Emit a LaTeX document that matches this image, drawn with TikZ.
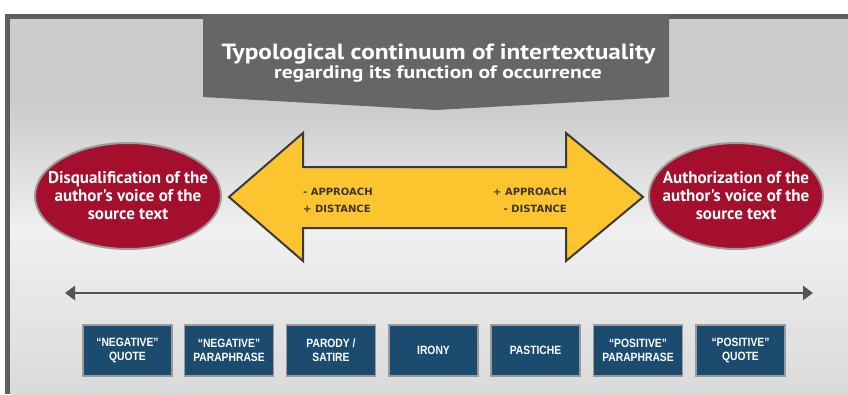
\documentclass[tikz,border=0pt]{standalone}
\usepackage{fontspec}
\setmainfont{PT Sans}
\newfontfamily\titlefont{PT Sans}[FakeStretch=1.15]
\newfontfamily\subtitlefont{PT Sans}[FakeStretch=1.2]
\newfontfamily\voicefont{PT Sans}
\newfontfamily\tagfont{DejaVu Sans}
\newfontfamily\narrowfont{Liberation Sans}[FakeStretch=0.86]
\usetikzlibrary{arrows.meta,shapes.geometric}

\definecolor{framegray}{HTML}{5E5E5E}
\definecolor{bgtop}{HTML}{CCCCCC}
\definecolor{bgmid}{HTML}{F0F0F0}
\definecolor{bgbot}{HTML}{DADADA}
\definecolor{bannergray}{HTML}{666666}
\definecolor{voicered}{HTML}{A30F2D}
\definecolor{voiceline}{HTML}{9C9C9C}
\definecolor{arrowyellow}{HTML}{FCC52F}
\definecolor{arrowline}{HTML}{3A3A3A}
\definecolor{tagtext}{HTML}{3A3528}
\definecolor{kindblue}{HTML}{1C4B70}
\definecolor{kindline}{HTML}{9A9A9A}
\definecolor{scaleline}{HTML}{555555}

\begin{document}
\begin{tikzpicture}[
  x=1pt,y=-1pt,
  voice/.style={draw=voiceline,line width=2pt,fill=voicered,ellipse,minimum width=186,minimum height=106,inner xsep=-22pt,inner ysep=0pt,text=white,align=center,font=\voicefont\bfseries\fontsize{17}{18}\selectfont},
  kind/.style={draw=kindline,line width=1.5pt,fill=kindblue,minimum width=89,minimum height=51,inner sep=0pt,text=white,align=center,font=\narrowfont\bfseries\fontsize{12}{14}\selectfont},
  tag/.style={inner sep=0pt,text=tagtext,anchor=base west,font=\tagfont\bfseries\fontsize{10}{12}\selectfont}
]
  \useasboundingbox (0,0) rectangle (848,394);

  % frame and background
  \fill[white] (0,0) rectangle (848,394);
  \fill[framegray] (5,14) rectangle (848,394);
  \fill[bgtop] (10,19) rectangle (848,106);
  \shade[top color=bgtop,bottom color=bgmid] (10,106) rectangle (848,230);
  \shade[top color=bgmid,bottom color=bgbot] (10,230) rectangle (848,394);

  % title banner
  \fill[bannergray] (203,14) -- (669,14) -- (669,97) -- (436,110) -- (203,97) -- cycle;
  \node[anchor=base,inner sep=0pt,text=white,font=\titlefont\bfseries\fontsize{22}{24}\selectfont] (title) at (438.5,59) {Typological continuum of intertextuality};
  \node[anchor=base,inner sep=0pt,text=white,font=\subtitlefont\bfseries\fontsize{18}{20}\selectfont] (subtitle) at (438,78) {regarding its function of occurrence};

  % voices
  \node[voice] (disq) at (128,196) {Disqualification of the\\author's voice of the\\source text};
  \node[voice,minimum width=174] (auth) at (736,196) {Authorization of the\\author's voice of the\\source text};

  % double arrow
  \filldraw[fill=arrowyellow,draw=arrowline,line width=2pt,line join=miter]
    (229,197) -- (303,133) -- (303,167) -- (566,167) -- (566,133) -- (643,197)
    -- (566,261) -- (566,228) -- (303,228) -- (303,261) -- cycle;
  \node[tag] (lessapp) at (303,195) {- APPROACH};
  \node[tag] (moredist) at (303,212) {+ DISTANCE};
  \node[tag,anchor=base east] (moreapp) at (567,195) {+ APPROACH};
  \node[tag,anchor=base east] (lessdist) at (567,212) {- DISTANCE};

  % scale
  \coordinate (scaleL) at (65,293);
  \coordinate (scaleR) at (813,293);
  \draw[scaleline,line width=2.5pt,{Triangle[length=10pt,width=14pt]}-{Triangle[length=10pt,width=14pt]}] (scaleL) -- (scaleR);

  % kinds
  \node[kind] (negquote) at (127.5,350.5) {“NEGATIVE”\\QUOTE};
  \node[kind] (negpara) at (229,350.5) {“NEGATIVE”\\PARAPHRASE};
  \node[kind] (parody) at (331,350.5) {PARODY /\\SATIRE};
  \node[kind] (irony) at (433.5,350.5) {IRONY};
  \node[kind] (pastiche) at (535.5,350.5) {PASTICHE};
  \node[kind] (pospara) at (638,350.5) {“POSITIVE”\\PARAPHRASE};
  \node[kind] (posquote) at (740.5,350.5) {“POSITIVE”\\QUOTE};

\end{tikzpicture}
\end{document}
